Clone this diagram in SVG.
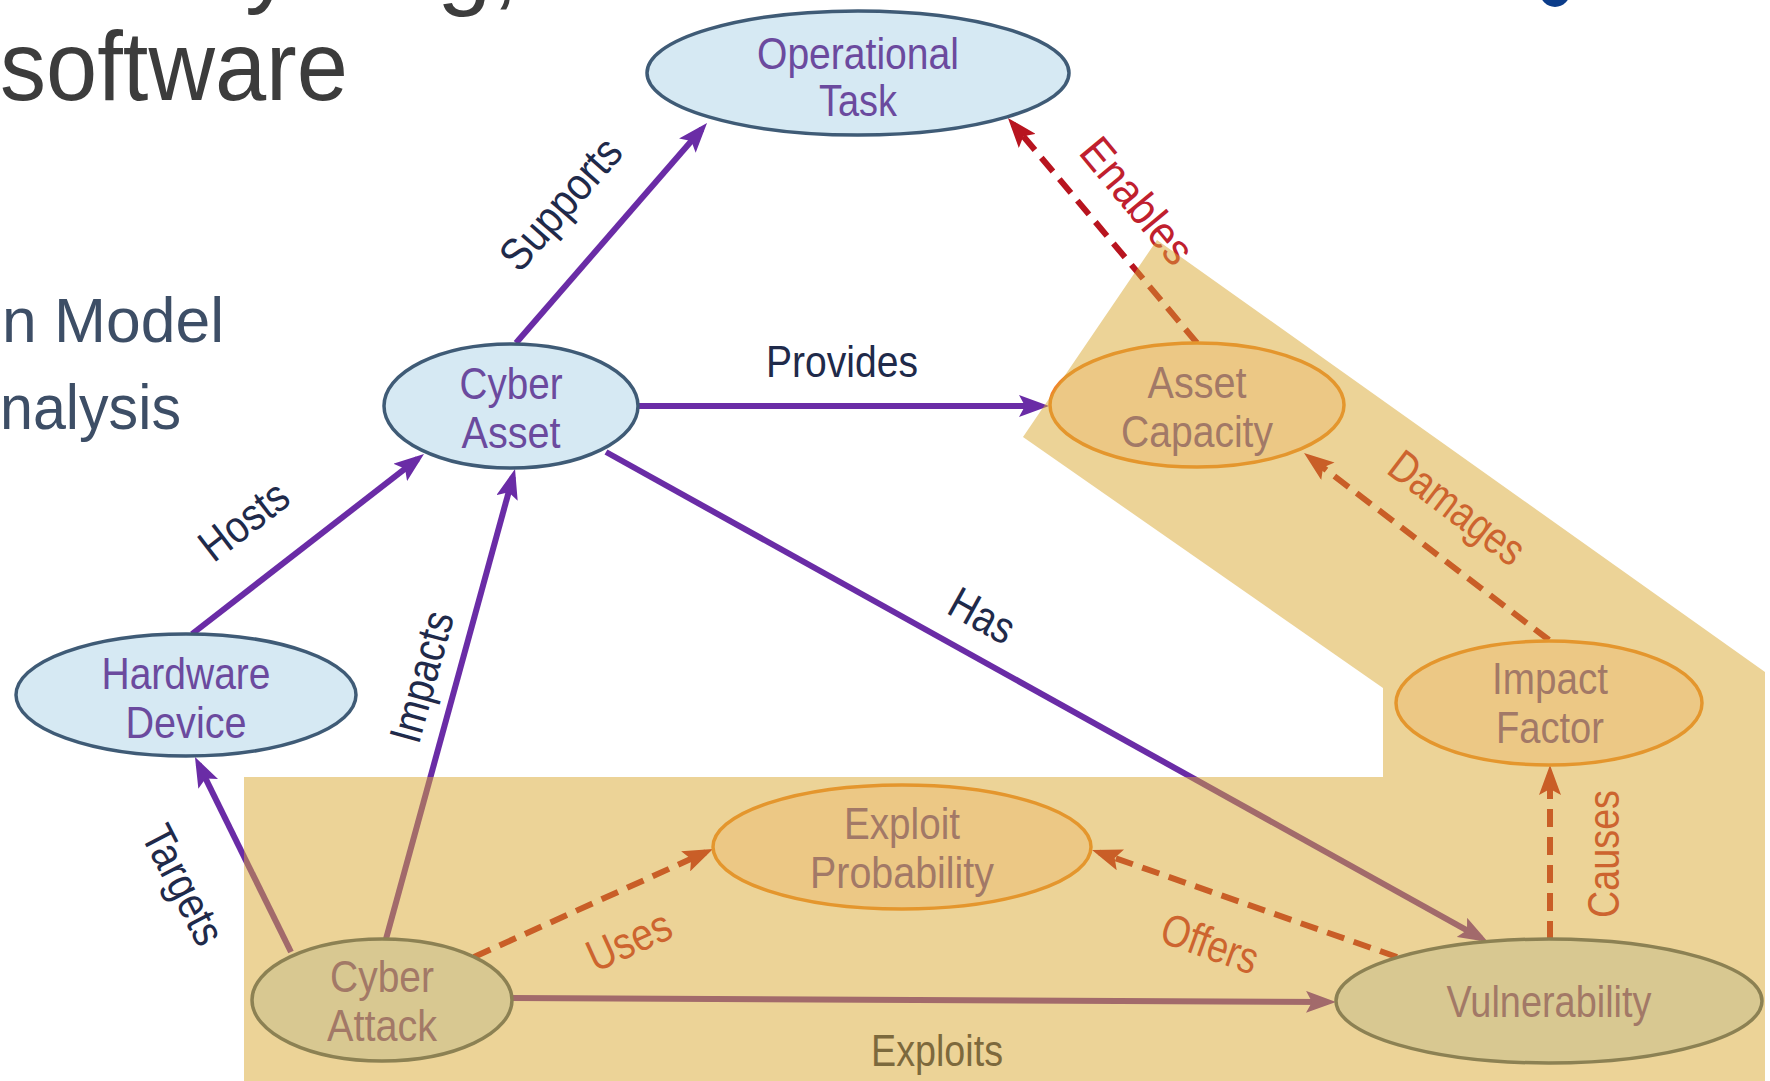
<svg xmlns="http://www.w3.org/2000/svg" width="1770" height="1081" viewBox="0 0 1770 1081">
  <defs>
    <style>
      .slide { font-family: "Liberation Sans", Arial, sans-serif; }
      .title { font-size: 98px; fill: #3c3c3c; }
      .bullet { font-size: 63px; fill: #3d4e66; }
      .dg { font-family: "Liberation Sans Narrow", "Arial Narrow", "Liberation Sans", Arial, sans-serif; font-size: 45px; text-anchor: middle; }
      .ntext { fill: #6b4a9e; }
      .lbl { fill: #1f2a4a; }
      .lbl-red { fill: #c0202e; }
      .blue ellipse { fill: #d6e9f3; stroke: #3f5b76; stroke-width: 3.5; }
      .orange ellipse { fill: #ffe9db; stroke: #ef852b; stroke-width: 3.5; }
      .solid { stroke: #6a2ca6; stroke-width: 6; fill: none; marker-end: url(#arrow-purple); }
      .dashed { stroke: #b8141f; stroke-width: 6; fill: none; stroke-dasharray: 18 10; marker-end: url(#arrow-red); }
      .band { fill: #d9a72f; opacity: 0.5; }
    </style>
    <marker id="arrow-purple" markerUnits="userSpaceOnUse" markerWidth="30" markerHeight="22" refX="22" refY="11" orient="auto">
      <path d="M0,0 L30,11 L0,22 L6,11 Z" fill="#6a2ca6"/>
    </marker>
    <marker id="arrow-red" markerUnits="userSpaceOnUse" markerWidth="30" markerHeight="22" refX="22" refY="11" orient="auto">
      <path d="M0,0 L30,11 L0,22 L6,11 Z" fill="#b8141f"/>
    </marker>
  </defs>

  <rect width="1770" height="1081" fill="#ffffff"/>

  <!-- slide text behind the diagram -->
  <g id="slide-text" class="slide">
    <text class="title" x="245" y="-5">y</text>
    <text class="title" x="437" y="-3">g,</text>
    <text class="title" x="0" y="100" textLength="348" lengthAdjust="spacingAndGlyphs">software</text>
    <text class="bullet" x="2" y="342" textLength="222" lengthAdjust="spacingAndGlyphs">n Model</text>
    <text class="bullet" x="0" y="429" textLength="181" lengthAdjust="spacingAndGlyphs">nalysis</text>
    <circle cx="1555" cy="-8" r="15" fill="#0b3c8a"/>
  </g>

  <!-- relationships -->
  <g id="connectors">
    <line class="solid" x1="516" y1="343" x2="701.8" y2="129"/>
    <line class="solid" x1="639" y1="406" x2="1041" y2="406"/>
    <line class="solid" x1="606" y1="452" x2="1481" y2="938.1"/>
    <line class="solid" x1="192" y1="634" x2="417.7" y2="458.9"/>
    <line class="solid" x1="386" y1="939" x2="512.9" y2="476.7"/>
    <line class="solid" x1="291" y1="952" x2="198.5" y2="764.2"/>
    <line class="solid" x1="512" y1="998" x2="1328" y2="1002"/>
    <line class="dashed" x1="474" y1="957" x2="705.7" y2="852.3"/>
    <line class="dashed" x1="1397" y1="957" x2="1099.6" y2="852.6"/>
    <line class="dashed" x1="1550" y1="939" x2="1550" y2="773"/>
    <line class="dashed" x1="1549" y1="640" x2="1310.4" y2="457.9"/>
    <line class="dashed" x1="1197" y1="343" x2="1013.1" y2="124.1"/>

    <g class="dg">
      <text class="lbl" x="842" y="377" textLength="152" lengthAdjust="spacingAndGlyphs">Provides</text>
      <text class="lbl" transform="translate(561,204) rotate(-48.8)" y="15" textLength="160" lengthAdjust="spacingAndGlyphs">Supports</text>
      <text class="lbl" transform="translate(244,521) rotate(-37.6)" y="15" textLength="100" lengthAdjust="spacingAndGlyphs">Hosts</text>
      <text class="lbl" transform="translate(422,677) rotate(-74.6)" y="15" textLength="134" lengthAdjust="spacingAndGlyphs">Impacts</text>
      <text class="lbl" transform="translate(183,885) rotate(62.7)" y="15" textLength="128" lengthAdjust="spacingAndGlyphs">Targets</text>
      <text class="lbl" transform="translate(982,616) rotate(29.1)" y="15" textLength="68" lengthAdjust="spacingAndGlyphs">Has</text>
      <text class="lbl" x="937" y="1066" textLength="132" lengthAdjust="spacingAndGlyphs">Exploits</text>
      <text class="lbl-red" transform="translate(1137,201) rotate(50.3)" y="15" textLength="150" lengthAdjust="spacingAndGlyphs">Enables</text>
      <text class="lbl-red" transform="translate(1457,508) rotate(37.2)" y="15" textLength="158" lengthAdjust="spacingAndGlyphs">Damages</text>
      <text class="lbl-red" transform="translate(1604,854) rotate(-90)" y="15" textLength="128" lengthAdjust="spacingAndGlyphs">Causes</text>
      <text class="lbl-red" transform="translate(629,941) rotate(-24.4)" y="15" textLength="88" lengthAdjust="spacingAndGlyphs">Uses</text>
      <text class="lbl-red" transform="translate(1210,944) rotate(19.7)" y="15" textLength="100" lengthAdjust="spacingAndGlyphs">Offers</text>
    </g>
  </g>

  <!-- concepts -->
  <g id="node-operational-task" class="blue dg">
    <ellipse cx="858" cy="73" rx="211" ry="62"/>
    <text class="ntext" x="858" y="69" textLength="202" lengthAdjust="spacingAndGlyphs">Operational</text>
    <text class="ntext" x="858" y="116" textLength="78" lengthAdjust="spacingAndGlyphs">Task</text>
  </g>
  <g id="node-cyber-asset" class="blue dg">
    <ellipse cx="511" cy="406" rx="127" ry="62"/>
    <text class="ntext" x="511" y="399" textLength="103" lengthAdjust="spacingAndGlyphs">Cyber</text>
    <text class="ntext" x="511" y="448" textLength="99" lengthAdjust="spacingAndGlyphs">Asset</text>
  </g>
  <g id="node-asset-capacity" class="orange dg">
    <ellipse cx="1197" cy="405" rx="147" ry="62"/>
    <text class="ntext" x="1197" y="398" textLength="99" lengthAdjust="spacingAndGlyphs">Asset</text>
    <text class="ntext" x="1197" y="447" textLength="152" lengthAdjust="spacingAndGlyphs">Capacity</text>
  </g>
  <g id="node-hardware-device" class="blue dg">
    <ellipse cx="186" cy="695" rx="170" ry="61"/>
    <text class="ntext" x="186" y="689" textLength="169" lengthAdjust="spacingAndGlyphs">Hardware</text>
    <text class="ntext" x="186" y="738" textLength="121" lengthAdjust="spacingAndGlyphs">Device</text>
  </g>
  <g id="node-impact-factor" class="orange dg">
    <ellipse cx="1549" cy="703" rx="153" ry="62"/>
    <text class="ntext" x="1550" y="694" textLength="116" lengthAdjust="spacingAndGlyphs">Impact</text>
    <text class="ntext" x="1550" y="743" textLength="108" lengthAdjust="spacingAndGlyphs">Factor</text>
  </g>
  <g id="node-exploit-probability" class="orange dg">
    <ellipse cx="902" cy="847" rx="189" ry="62"/>
    <text class="ntext" x="902" y="839" textLength="116" lengthAdjust="spacingAndGlyphs">Exploit</text>
    <text class="ntext" x="902" y="888" textLength="184" lengthAdjust="spacingAndGlyphs">Probability</text>
  </g>
  <g id="node-cyber-attack" class="blue dg">
    <ellipse cx="382" cy="1000" rx="130" ry="61"/>
    <text class="ntext" x="382" y="992" textLength="104" lengthAdjust="spacingAndGlyphs">Cyber</text>
    <text class="ntext" x="382" y="1041" textLength="110" lengthAdjust="spacingAndGlyphs">Attack</text>
  </g>
  <g id="node-vulnerability" class="blue dg">
    <ellipse cx="1549" cy="1001" rx="213" ry="62"/>
    <text class="ntext" x="1549" y="1017" textLength="205" lengthAdjust="spacingAndGlyphs">Vulnerability</text>
  </g>

  <!-- translucent highlight over the attack-impact path -->
  <g id="highlight">
    <polygon class="band" points="244,1081 244,777 1383,777 1383,688 1023,437 1157,240 1765,672 1765,1081"/>
  </g>
</svg>
